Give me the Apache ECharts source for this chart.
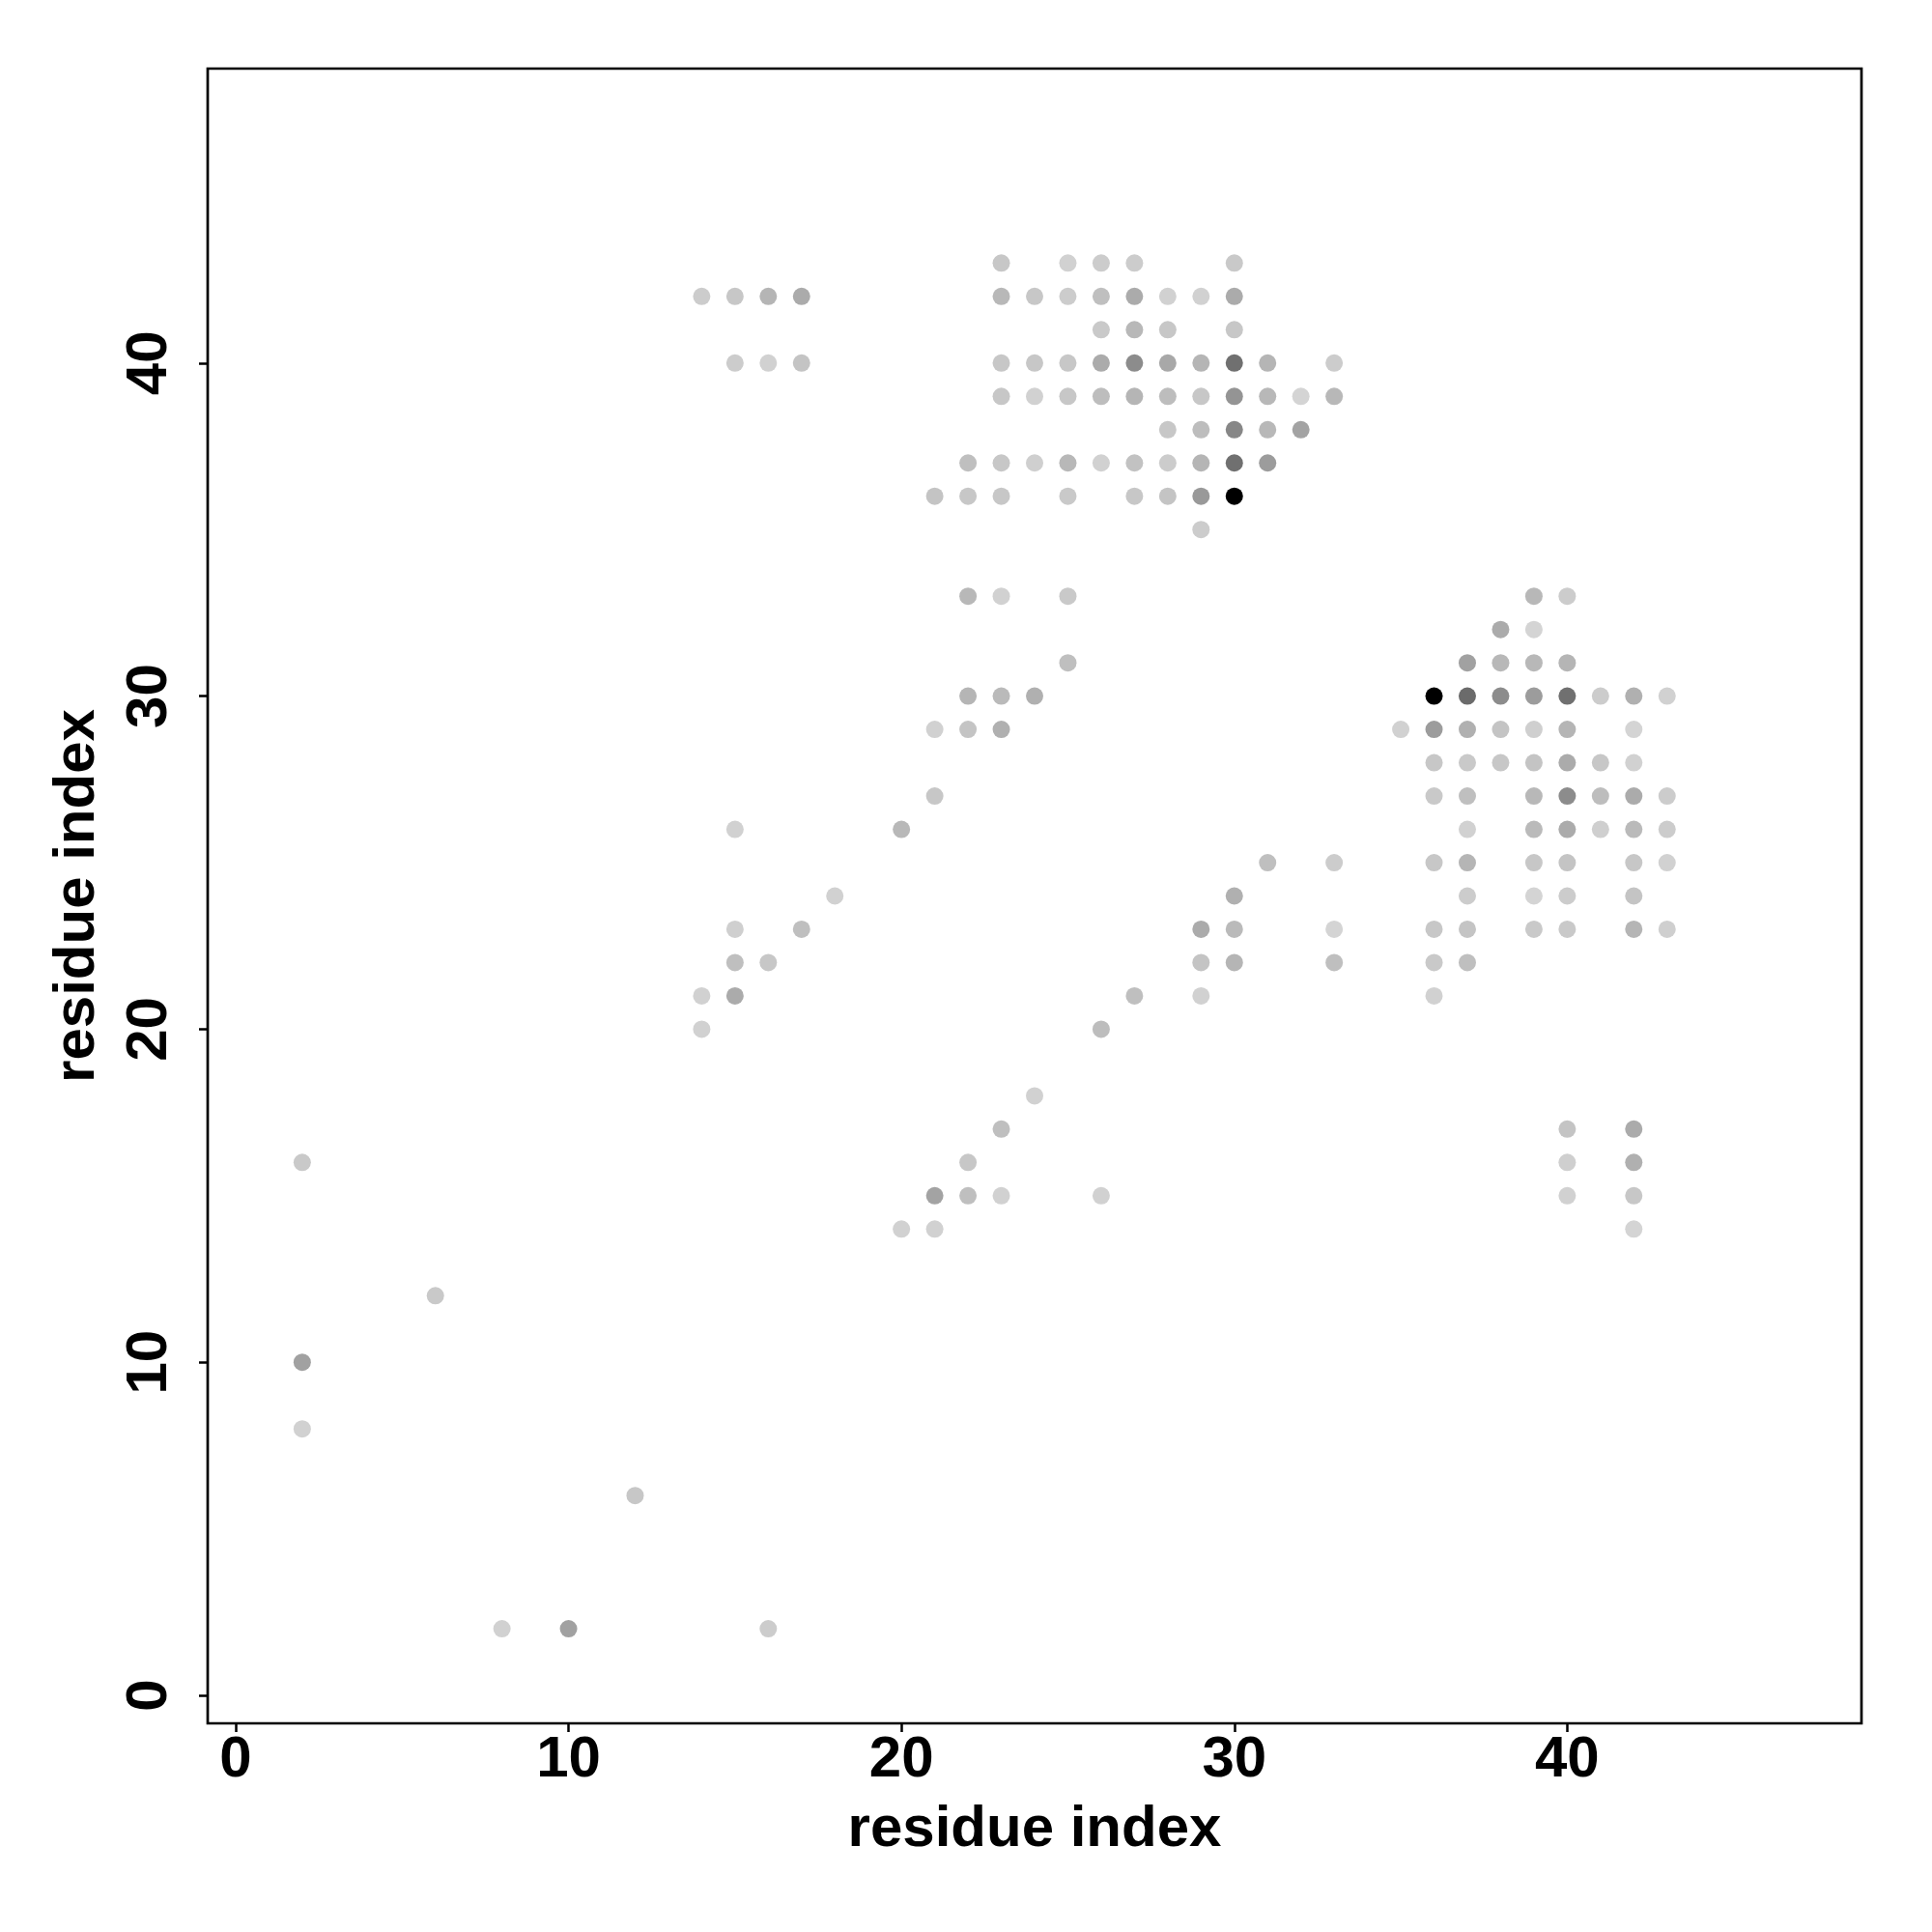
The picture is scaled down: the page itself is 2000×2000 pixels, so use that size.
<!DOCTYPE html>
<html><head><meta charset="utf-8">
<script src="https://cdn.jsdelivr.net/npm/echarts@6/dist/echarts.min.js"></script>
<style>html,body{margin:0;padding:0;background:#fff}#c{width:2000px;height:2000px}</style>
</head><body><div id="c"></div>
<script>
// contact map: residue pairs (x = residue i, y = residue j) and contact strength (0..1, darker = stronger)
const residueX = [
  23,25,26,27,30,
  14,15,16,17,23,24,25,26,27,28,29,30,
  26,27,28,30,
  15,16,17,23,24,25,26,27,28,29,30,31,33,
  23,24,25,26,27,28,29,30,31,32,33,
  28,29,30,31,32,
  22,23,24,25,26,27,28,29,30,31,
  21,22,23,25,27,28,29,30,
  29,
  22,23,25,39,40,
  38,39,
  25,37,38,39,40,
  22,23,24,36,37,38,39,40,41,42,43,
  21,22,23,35,36,37,38,39,40,42,
  36,37,38,39,40,41,42,
  21,36,37,39,40,41,42,43,
  15,20,37,39,40,41,42,43,
  31,33,36,37,39,40,42,43,
  18,30,37,39,40,42,
  15,17,29,30,33,36,37,39,40,42,43,
  15,16,29,30,33,36,37,
  14,15,27,29,36,
  14,26,
  24,
  23,40,42,
  2,22,40,42,
  21,22,23,26,40,42,
  20,21,42,
  6,
  2,
  2,
  12,
  8,10,16
];
const residueY = [
  43,43,43,43,43,
  42,42,42,42,42,42,42,42,42,42,42,42,
  41,41,41,41,
  40,40,40,40,40,40,40,40,40,40,40,40,40,
  39,39,39,39,39,39,39,39,39,39,39,
  38,38,38,38,38,
  37,37,37,37,37,37,37,37,37,37,
  36,36,36,36,36,36,36,36,
  35,
  33,33,33,33,33,
  32,32,
  31,31,31,31,31,
  30,30,30,30,30,30,30,30,30,30,30,
  29,29,29,29,29,29,29,29,29,29,
  28,28,28,28,28,28,28,
  27,27,27,27,27,27,27,27,
  26,26,26,26,26,26,26,26,
  25,25,25,25,25,25,25,25,
  24,24,24,24,24,24,
  23,23,23,23,23,23,23,23,23,23,23,
  22,22,22,22,22,22,22,
  21,21,21,21,21,
  20,20,
  18,
  17,17,17,
  16,16,16,16,
  15,15,15,15,15,15,
  14,14,14,
  12,
  10,
  8,
  6,
  2,2,2
];
const strength = [
  .22,.18,.20,.20,.21,
  .20,.22,.29,.33,.28,.22,.20,.25,.33,.18,.18,.33,
  .21,.28,.22,.22,
  .20,.18,.23,.22,.22,.22,.33,.45,.34,.29,.56,.29,.20,
  .22,.18,.22,.26,.29,.26,.22,.42,.28,.17,.28,
  .22,.26,.47,.28,.36,
  .25,.22,.19,.28,.18,.24,.20,.29,.56,.39,
  .23,.22,.22,.21,.22,.23,.40,1.0,
  .20,
  .28,.18,.21,.28,.20,
  .33,.17,
  .25,.37,.28,.28,.29,
  .29,.27,.31,1.0,.58,.45,.39,.56,.20,.31,.18,
  .18,.23,.31,.18,.39,.31,.23,.19,.29,.17,
  .22,.21,.22,.23,.33,.22,.18,
  .22,.21,.25,.28,.45,.26,.33,.20,
  .18,.28,.18,.27,.33,.19,.27,.20,
  .25,.20,.22,.29,.22,.23,.22,.18,
  .18,.31,.20,.17,.20,.23,
  .19,.25,.33,.27,.17,.22,.23,.21,.21,.29,.19,
  .25,.22,.23,.29,.25,.21,.25,
  .18,.33,.25,.18,.18,
  .18,.26,
  .18,
  .25,.23,.33,
  .21,.22,.19,.31,
  .36,.25,.18,.18,.18,.22,
  .18,.18,.17,
  .21,
  .37,
  .18,
  .22,
  .18,.37,.20
];
const tickValues = [0, 10, 20, 30, 40];
const axisTitle = 'residue index';
const axisMin = -0.84, axisMax = 48.84;

const points = residueX.map((x, k) => [x, residueY[k], strength[k]]);
const FONT = 'Liberation Sans';

const chart = echarts.init(document.getElementById('c'), null, {renderer: 'canvas'});
const axisCommon = {
  type: 'value',
  min: axisMin,
  max: axisMax,
  name: axisTitle,
  nameLocation: 'middle',
  nameTextStyle: {fontFamily: FONT, fontWeight: 'bold', fontSize: 60, color: '#000'},
  axisLine: {show: false, onZero: false},
  splitLine: {show: false},
  axisTick: {show: true, inside: false, length: 9, customValues: tickValues,
    lineStyle: {color: '#000', width: 2.5}},
  axisLabel: {show: true, customValues: tickValues,
    fontFamily: FONT, fontWeight: 'bold', fontSize: 60, color: '#000'}
};
chart.setOption({
  animation: false,
  backgroundColor: '#ffffff',
  grid: {left: 215, top: 71, right: 73, bottom: 216, show: true,
    borderColor: '#000', borderWidth: 2.7, backgroundColor: 'transparent'},
  xAxis: Object.assign({}, axisCommon, {
    nameGap: 80,
    axisLabel: Object.assign({}, axisCommon.axisLabel, {margin: 8})
  }),
  yAxis: Object.assign({}, axisCommon, {
    nameGap: 105,
    axisLabel: Object.assign({}, axisCommon.axisLabel, {margin: 30, rotate: 90})
  }),
  visualMap: {
    type: 'continuous', show: false, dimension: 2, min: 0, max: 1,
    inRange: {color: ['#ffffff', '#000000']}
  },
  series: [{
    type: 'scatter',
    data: points,
    symbol: 'circle',
    symbolSize: 18,
    itemStyle: {opacity: 1, borderWidth: 0},
    emphasis: {disabled: true}
  }]
});
</script>
</body></html>
